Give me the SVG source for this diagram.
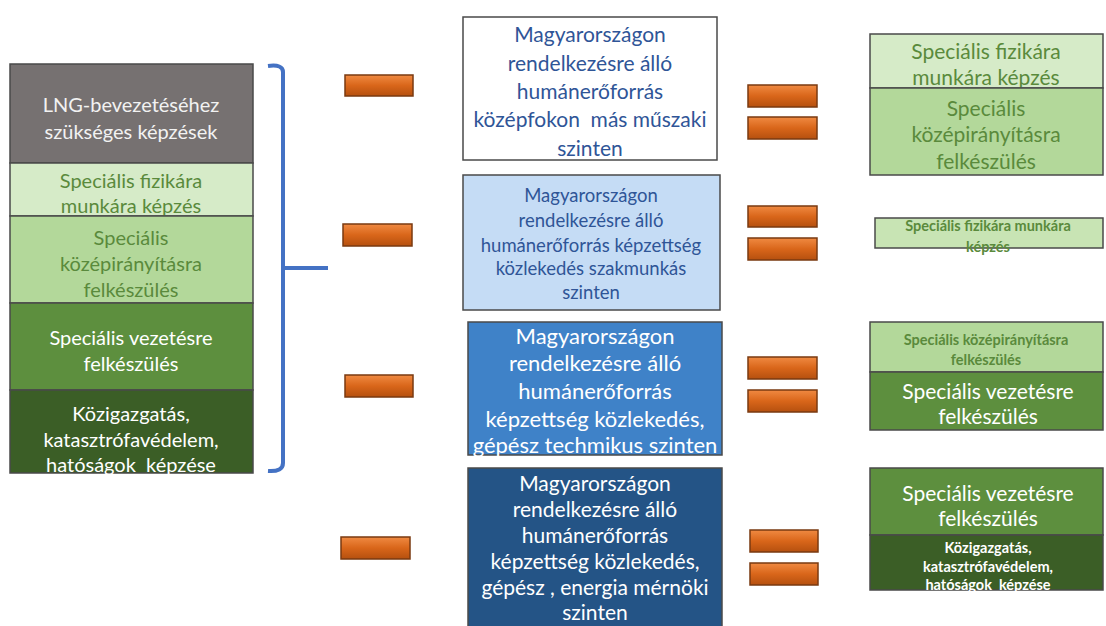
<svg xmlns="http://www.w3.org/2000/svg" width="1106" height="626" viewBox="0 0 1106 626">
<defs>
<linearGradient id="og" x1="0" y1="0" x2="0" y2="1">
<stop offset="0" stop-color="#f08a42"/>
<stop offset="0.5" stop-color="#d9661a"/>
<stop offset="1" stop-color="#b5500f"/>
</linearGradient>
<style>
text{font-family:Lato,"Liberation Sans",sans-serif;text-anchor:middle;dominant-baseline:central;white-space:pre}
.bar{fill:url(#og);stroke:#7a3a10;stroke-width:1.5}
.box{stroke:#4a4a4a;stroke-width:1.5}
.w{fill:#ffffff}
.lg{fill:#5a8a3c}
.db{fill:#2f5597}
.t22{font-size:22px}
.t21{font-size:21px}
.t20{font-size:20px}
.t18{font-size:18.5px}
.b15{font-size:14.5px;font-weight:bold}
</style>
</defs>
<rect width="1106" height="626" fill="#ffffff"/>

<g id="left-stack">
<rect class="box" x="10" y="64" width="243" height="99" fill="#767171"/>
<text class="t20" x="131" y="104" fill="#f2f2f2">LNG-bevezetéséhez</text>
<text class="t20" x="131" y="131" fill="#f2f2f2">szükséges képzések</text>
<rect class="box" x="10" y="163" width="243" height="53" fill="#d6ebc8"/>
<text class="t20 lg" x="131" y="180">Speciális fizikára</text>
<text class="t20 lg" x="131" y="205">munkára képzés</text>
<rect class="box" x="10" y="216" width="243" height="87" fill="#b3d89a"/>
<text class="t20 lg" x="131" y="237">Speciális</text>
<text class="t20 lg" x="131" y="263">középirányításra</text>
<text class="t20 lg" x="131" y="289">felkészülés</text>
<rect class="box" x="10" y="303" width="243" height="87" fill="#5d8f3e"/>
<text class="t20 w" x="131" y="337">Speciális vezetésre</text>
<text class="t20 w" x="131" y="363">felkészülés</text>
<rect class="box" x="10" y="390" width="243" height="83" fill="#3b5e26"/>
<text class="t20 w" x="131" y="413">Közigazgatás,</text>
<text class="t20 w" x="131" y="439">katasztrófavédelem,</text>
<text class="t20 w" x="131" y="464">hatóságok  képzése</text>
</g>

<g id="connectors">
<path d="M268 66 Q283 64 283 72 L283 463 Q283 472 268 471 M283 268 L328 268" fill="none" stroke="#4472c4" stroke-width="4"/>
</g>

<g id="bars-left">
<rect class="bar" x="345" y="75" width="68" height="21"/>
<rect class="bar" x="343" y="224" width="69" height="22"/>
<rect class="bar" x="345" y="375" width="68" height="22"/>
<rect class="bar" x="341" y="537" width="69" height="22"/>
</g>

<g id="mid-1">
<rect class="box" x="463" y="17" width="254" height="143" fill="#ffffff" stroke="#6a6a6a"/>
<text class="t21 db" x="590" y="33">Magyarországon</text>
<text class="t21 db" x="590" y="62">rendelkezésre álló</text>
<text class="t21 db" x="590" y="90">humánerőforrás</text>
<text class="t21 db" x="590" y="118">középfokon  más műszaki</text>
<text class="t21 db" x="590" y="147">szinten</text>
</g>
<g id="mid-2">
<rect class="box" x="463" y="175" width="257" height="135" fill="#c5dcf5"/>
<text class="t18 db" x="591" y="195">Magyarországon</text>
<text class="t18 db" x="591" y="220">rendelkezésre álló</text>
<text class="t18 db" x="591" y="245">humánerőforrás képzettség</text>
<text class="t18 db" x="591" y="268">közlekedés szakmunkás</text>
<text class="t18 db" x="591" y="292">szinten</text>
</g>
<g id="mid-3">
<rect class="box" x="468" y="322" width="254" height="133" fill="#3f82c8"/>
<text class="t22 w" x="595" y="335">Magyarországon</text>
<text class="t22 w" x="595" y="362">rendelkezésre álló</text>
<text class="t22 w" x="595" y="390">humánerőforrás</text>
<text class="t22 w" x="595" y="418">képzettség közlekedés,</text>
<text class="t22 w" x="595" y="444">gépész techmikus szinten</text>
</g>
<g id="mid-4">
<rect class="box" x="468" y="468" width="254" height="162" fill="#245486"/>
<text class="t21 w" x="595" y="482">Magyarországon</text>
<text class="t21 w" x="595" y="508">rendelkezésre álló</text>
<text class="t21 w" x="595" y="534">humánerőforrás</text>
<text class="t21 w" x="595" y="560">képzettség közlekedés,</text>
<text class="t21 w" x="595" y="586">gépész , energia mérnöki</text>
<text class="t21 w" x="595" y="611">szinten</text>
</g>

<g id="bars-right">
<rect class="bar" x="748" y="85" width="69" height="22"/>
<rect class="bar" x="748" y="117" width="69" height="22"/>
<rect class="bar" x="748" y="206" width="69" height="21"/>
<rect class="bar" x="748" y="238" width="69" height="22"/>
<rect class="bar" x="748" y="357" width="69" height="22"/>
<rect class="bar" x="748" y="390" width="69" height="22"/>
<rect class="bar" x="750" y="530" width="68" height="22"/>
<rect class="bar" x="750" y="563" width="68" height="22"/>
</g>

<g id="right-1">
<rect class="box" x="870" y="34" width="233" height="54" fill="#d6ebc8"/>
<text class="t21 lg" x="986" y="50">Speciális fizikára</text>
<text class="t21 lg" x="986" y="76">munkára képzés</text>
<rect class="box" x="870" y="88" width="233" height="87" fill="#b3d89a"/>
<text class="t21 lg" x="986" y="107">Speciális</text>
<text class="t21 lg" x="986" y="133">középirányításra</text>
<text class="t21 lg" x="986" y="160">felkészülés</text>
</g>
<g id="right-2">
<rect class="box" x="875" y="218" width="228" height="30" fill="#c8e4b4"/>
<text class="b15 lg" x="988" y="225">Speciális fizikára munkára</text>
<text class="b15 lg" x="988" y="246">képzés</text>
</g>
<g id="right-3">
<rect class="box" x="870" y="322" width="233" height="50" fill="#b3d89a"/>
<text class="b15 lg" x="986" y="339">Speciális középirányításra</text>
<text class="b15 lg" x="986" y="359">felkészülés</text>
<rect class="box" x="870" y="372" width="233" height="58" fill="#5d8f3e"/>
<text class="t21 w" x="988" y="390">Speciális vezetésre</text>
<text class="t21 w" x="988" y="415">felkészülés</text>
</g>
<g id="right-4">
<rect class="box" x="870" y="468" width="233" height="67" fill="#5d8f3e"/>
<text class="t21 w" x="988" y="492">Speciális vezetésre</text>
<text class="t21 w" x="988" y="517">felkészülés</text>
<rect class="box" x="870" y="535" width="233" height="55" fill="#3b5e26"/>
<text class="b15 w" x="988" y="547">Közigazgatás,</text>
<text class="b15 w" x="988" y="566">katasztrófavédelem,</text>
<text class="b15 w" x="988" y="584">hatóságok  képzése</text>
</g>
</svg>
